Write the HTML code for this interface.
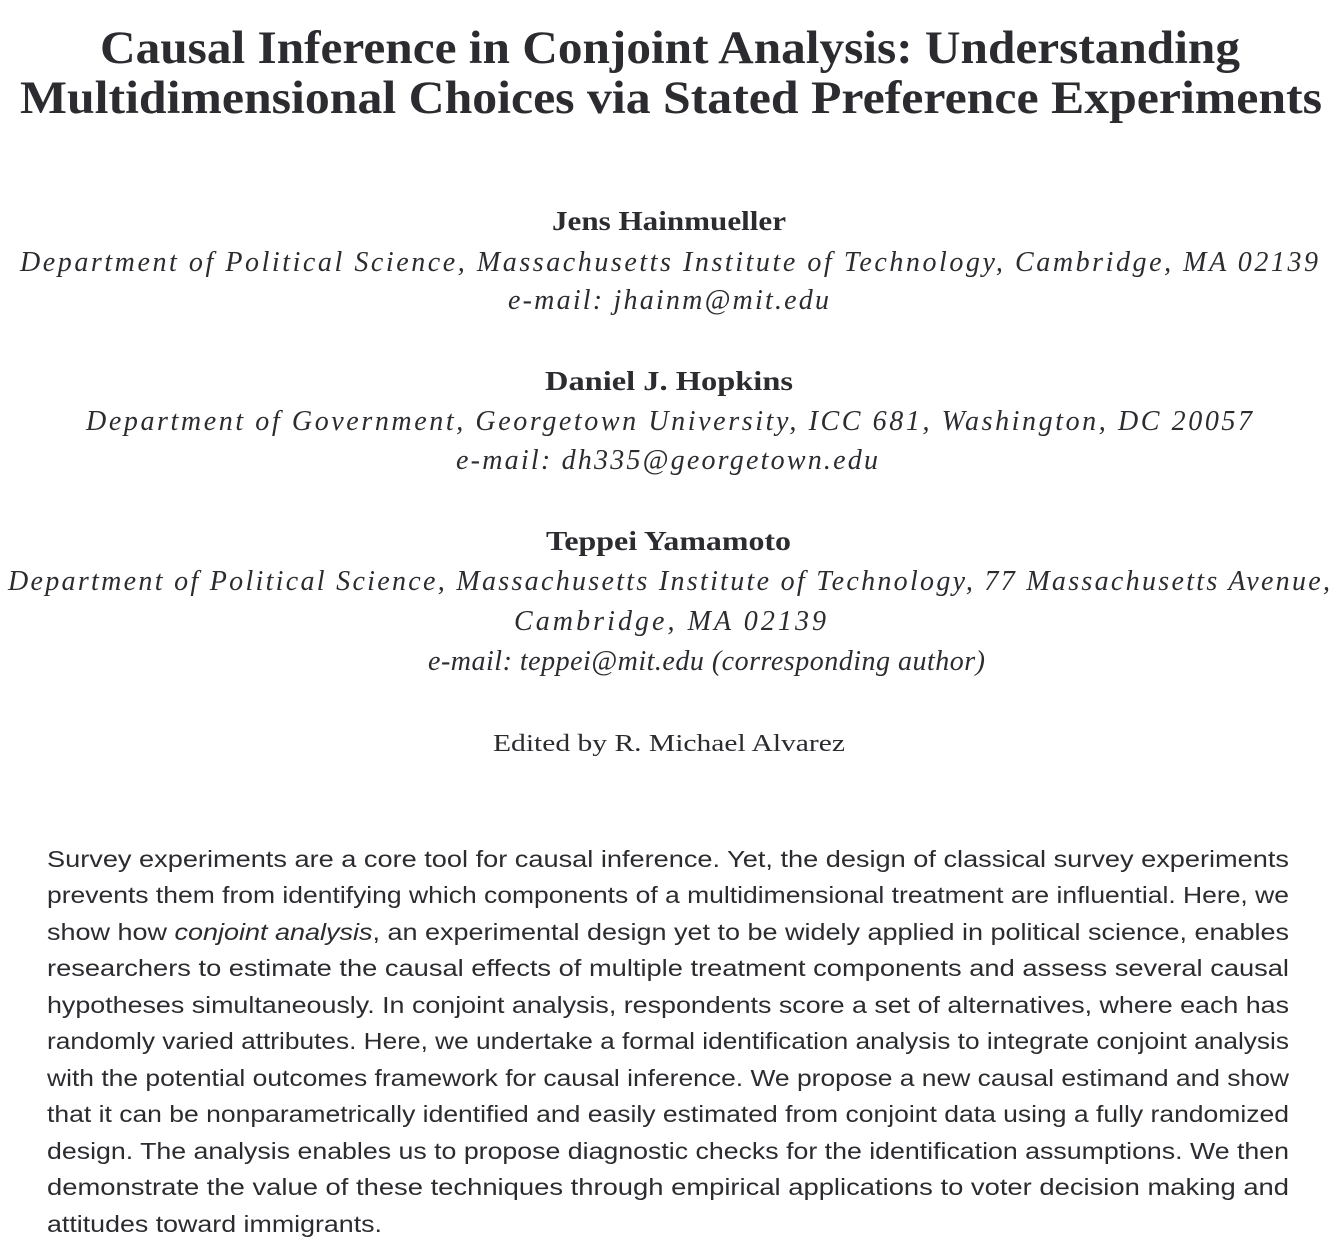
<!DOCTYPE html>
<html><head><meta charset="utf-8"><style>
html,body{margin:0;padding:0;background:#fff;}
svg{display:block;}
.t{font-family:"Liberation Serif",serif;font-weight:bold;font-size:47px;fill:#2b2b30;}
.n{font-family:"Liberation Serif",serif;font-weight:bold;font-size:27px;fill:#2b2b30;}
.a{font-family:"Liberation Serif",serif;font-style:italic;font-size:28px;fill:#2b2b30;}
.e{font-family:"Liberation Serif",serif;font-size:24px;fill:#2b2b30;}
.b{font-family:"Liberation Sans",sans-serif;font-size:23.5px;fill:#2b2b30;}
</style></head><body>
<svg width="1342" height="1252" viewBox="0 0 1342 1252">
<g>
<text class="t" x="100" y="63" textLength="1140" lengthAdjust="spacingAndGlyphs">Causal Inference in Conjoint Analysis: Understanding</text>
<text class="t" x="20" y="113" textLength="1302" lengthAdjust="spacingAndGlyphs">Multidimensional Choices via Stated Preference Experiments</text>
</g>
<g>
<text class="n" x="552" y="230" textLength="234" lengthAdjust="spacingAndGlyphs">Jens Hainmueller</text>
<text class="a" x="20" y="271" textLength="1298" lengthAdjust="spacing">Department of Political Science, Massachusetts Institute of Technology, Cambridge, MA 02139</text>
<text class="a" x="508" y="309" textLength="321" lengthAdjust="spacing">e-mail: jhainm@mit.edu</text>
</g>
<g>
<text class="n" x="545" y="390" textLength="248" lengthAdjust="spacingAndGlyphs">Daniel J. Hopkins</text>
<text class="a" x="86" y="430" textLength="1166" lengthAdjust="spacing">Department of Government, Georgetown University, ICC 681, Washington, DC 20057</text>
<text class="a" x="456" y="469" textLength="422" lengthAdjust="spacing">e-mail: dh335@georgetown.edu</text>
</g>
<g>
<text class="n" x="546" y="550" textLength="245" lengthAdjust="spacingAndGlyphs">Teppei Yamamoto</text>
<text class="a" x="8" y="590" textLength="1322" lengthAdjust="spacing">Department of Political Science, Massachusetts Institute of Technology, 77 Massachusetts Avenue,</text>
<text class="a" x="514" y="630" textLength="312" lengthAdjust="spacing">Cambridge, MA 02139</text>
<text class="a" x="428" y="670" textLength="557" lengthAdjust="spacing">e-mail: teppei@mit.edu (corresponding author)</text>
</g>
<text class="e" x="493" y="751" textLength="352" lengthAdjust="spacingAndGlyphs">Edited by R. Michael Alvarez</text>
<g>
<text class="b" x="47" y="867" textLength="1242" lengthAdjust="spacingAndGlyphs">Survey experiments are a core tool for causal inference. Yet, the design of classical survey experiments</text>
<text class="b" x="47" y="903" textLength="1242" lengthAdjust="spacingAndGlyphs">prevents them from identifying which components of a multidimensional treatment are influential. Here, we</text>
<text class="b" x="47" y="940" textLength="1242" lengthAdjust="spacingAndGlyphs">show how <tspan font-style="italic">conjoint analysis</tspan>, an experimental design yet to be widely applied in political science, enables</text>
<text class="b" x="47" y="976" textLength="1242" lengthAdjust="spacingAndGlyphs">researchers to estimate the causal effects of multiple treatment components and assess several causal</text>
<text class="b" x="47" y="1013" textLength="1242" lengthAdjust="spacingAndGlyphs">hypotheses simultaneously. In conjoint analysis, respondents score a set of alternatives, where each has</text>
<text class="b" x="47" y="1049" textLength="1242" lengthAdjust="spacingAndGlyphs">randomly varied attributes. Here, we undertake a formal identification analysis to integrate conjoint analysis</text>
<text class="b" x="47" y="1086" textLength="1242" lengthAdjust="spacingAndGlyphs">with the potential outcomes framework for causal inference. We propose a new causal estimand and show</text>
<text class="b" x="47" y="1122" textLength="1242" lengthAdjust="spacingAndGlyphs">that it can be nonparametrically identified and easily estimated from conjoint data using a fully randomized</text>
<text class="b" x="47" y="1159" textLength="1242" lengthAdjust="spacingAndGlyphs">design. The analysis enables us to propose diagnostic checks for the identification assumptions. We then</text>
<text class="b" x="47" y="1195" textLength="1242" lengthAdjust="spacingAndGlyphs">demonstrate the value of these techniques through empirical applications to voter decision making and</text>
<text class="b" x="47" y="1232" textLength="335" lengthAdjust="spacingAndGlyphs">attitudes toward immigrants.</text>
</g>
</svg>
</body></html>
